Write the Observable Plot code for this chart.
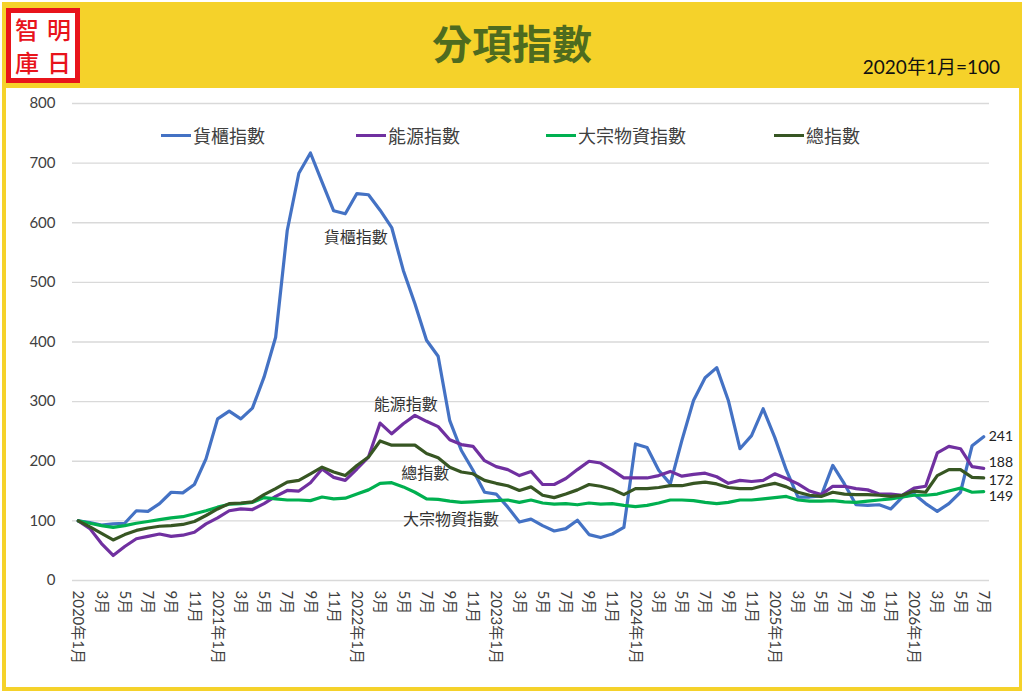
<!DOCTYPE html>
<html>
<head>
<meta charset="utf-8">
<script src="https://cdn.jsdelivr.net/npm/d3@7"></script>
<script src="https://cdn.jsdelivr.net/npm/@observablehq/plot@0.6"></script>
<style>
  body { margin: 0; background: #fff; font-family: Lato, "Noto Sans CJK TC", sans-serif; }
  #frame { position: absolute; top: 2px; left: 2px; width: 1020px; height: 689px; background: #f5d22a; }
  #logo { position: absolute; left: 4px; top: 6px; width: 64px; height: 65px; border: 5px solid #e8141b; background: #fff;
          display: grid; grid-template-columns: 1fr 1fr; grid-template-rows: 1fr 1fr; color: #e8141b;
          font: 500 24px "Noto Sans CJK TC"; line-height: 32px; text-align: center; overflow: hidden; }
  #title { position: absolute; left: 0; width: 1020px; top: 14px; text-align: center; color: #4e6b1f;
           font: 700 40px "Noto Sans CJK TC"; line-height: 52px; }
  #sub { position: absolute; right: 22px; top: 50px; font: 400 19px Lato, "Noto Sans CJK TC"; color: #111; }
  #panel { position: absolute; left: 4px; top: 86px; width: 1013px; height: 599px; background: #fff; }
  #legend { position: absolute; top: 34px; left: 0; width: 1013px; height: 24px; font: 18px "Noto Sans CJK TC"; color: #404040; }
  .item { position: absolute; display: flex; align-items: center; white-space: nowrap; }
  .sw { width: 30px; height: 3px; margin-right: 2px; }
</style>
</head>
<body>
<div id="frame">
  <div id="logo"><div>智</div><div>明</div><div>庫</div><div>日</div></div>
  <div id="title">分項指數</div>
  <div id="sub">2020年1月=100</div>
  <div id="panel">
    <div id="chart"></div>
    <div id="legend"></div>
  </div>
</div>
<script>
// 2020年1月 ... 2026年7月, 每月一點
const startYear = 2020;
const nMonths = 79;

const seriesNames = ["貨櫃指數", "能源指數", "大宗物資指數", "總指數"];
const seriesColors = ["#4472c4", "#7030a0", "#00b050", "#375623"];

const container = [100, 97, 93, 95, 96, 117, 116, 129, 148, 147, 161, 204, 271, 284, 271, 289, 341, 408, 587, 683, 717,
  668, 620, 615, 649, 647, 621, 592, 520, 464, 403, 376, 268, 218, 185, 148, 145, 123, 98, 103,
  92, 83, 87, 101, 77, 72, 78, 89, 229, 223, 185, 162, 235, 302, 340, 357, 302, 221, 243,
  288, 240, 185, 140, 140, 142, 193, 162, 127, 126, 127, 120, 140, 145, 129, 116, 129, 148, 226, 241];
const energy = [100, 87, 62, 42, 57, 70, 74, 78, 74, 76, 81, 95, 105, 117, 120, 119, 129, 141, 151, 150, 164,
  187, 173, 168, 187, 207, 264, 246, 263, 277, 267, 258, 236, 228, 225, 201, 191, 186, 176, 183,
  161, 161, 171, 186, 200, 197, 185, 172, 172, 172, 176, 183, 175, 178, 180, 174, 163, 168, 166,
  168, 179, 171, 162, 150, 144, 158, 158, 154, 152, 145, 145, 143, 155, 158, 214, 225, 221, 191, 188];
const bulk = [100, 96, 92, 89, 92, 96, 99, 102, 105, 107, 112, 117, 123, 128, 129, 131, 139, 137, 135, 135, 134,
  140, 137, 138, 145, 152, 163, 164, 157, 148, 137, 136, 133, 131, 132, 133, 134, 135, 131, 135,
  130, 128, 129, 127, 130, 128, 129, 126, 124, 126, 130, 135, 135, 134, 131, 129, 131, 135, 135,
  137, 139, 141, 135, 133, 133, 134, 132, 131, 133, 135, 137, 140, 143, 143, 145, 150, 155, 148, 149];
const total = [100, 90, 79, 68, 77, 84, 88, 91, 92, 94, 99, 109, 120, 129, 130, 132, 144, 154, 165, 168, 179,
  190, 182, 176, 193, 207, 234, 227, 227, 227, 213, 206, 190, 182, 179, 168, 163, 159, 151, 157,
  143, 139, 145, 152, 161, 158, 153, 144, 154, 154, 156, 159, 159, 163, 165, 162, 156, 154, 154,
  159, 163, 157, 148, 143, 141, 148, 145, 144, 144, 143, 141, 143, 150, 148, 176, 186, 186, 173, 172];

const yTicks = [0, 100, 200, 300, 400, 500, 600, 700, 800];
const xTicks = d3.range(0, nMonths, 2);

// 圖內標註 (月序, 指數值)
const notes = [
  {text: "貨櫃指數", i: 23.9, v: 575},
  {text: "能源指數", i: 28.2, v: 295},
  {text: "總指數", i: 29.9, v: 178},
  {text: "大宗物資指數", i: 32.1, v: 102}
];

const allSeries = [container, energy, bulk, total];
const rows = allSeries.flatMap((vals, k) => vals.map((v, i) => ({i, v, name: seriesNames[k]})));

// 末端數值標籤: 上下錯開避免重疊
const endShift = [0, -6, 5, 3];

const monthLabel = i => i % 12 === 0 ? `${startYear + i / 12}年1月` : `${i % 12 + 1}月`;

const chart = Plot.plot({
  width: 1013,
  height: 599,
  marginTop: 15,
  marginBottom: 107,
  marginLeft: 66,
  marginRight: 30,
  style: {background: "transparent", fontFamily: "Lato, 'Noto Sans CJK TC', sans-serif", overflow: "visible"},
  x: {type: "linear", domain: [-0.5, nMonths - 0.5]},
  y: {domain: [0, 800]},
  color: {domain: seriesNames, range: seriesColors},
  marks: [
    Plot.ruleY(yTicks, {stroke: "#d9d9d9", strokeWidth: 1.4}),
    Plot.axisY({ticks: yTicks, tickSize: 0, tickPadding: 17, fontSize: 15, fill: "#404040", label: null}),
    Plot.axisX({ticks: xTicks, tickSize: 0, tickPadding: 10, tickRotate: 90, fontSize: 15, fill: "#404040",
      tickFormat: monthLabel, label: null}),
    Plot.line(rows, {x: "i", y: "v", z: "name", stroke: "name", strokeWidth: 3.2, strokeLinejoin: "round"}),
    Plot.text(notes, {x: "i", y: "v", text: "text", fontSize: 16, fill: "#333",
      fontFamily: "'Noto Sans CJK TC'"}),
    ...allSeries.map((vals, k) => Plot.text([vals[nMonths - 1]], {
      x: nMonths - 1, y: d => d, text: d => String(d), dx: 5, dy: endShift[k],
      textAnchor: "start", fontSize: 14, fill: "#222"
    }))
  ]
});
document.getElementById("chart").append(chart);

// 圖例
const legendX = [155, 350, 540, 768];
const legend = document.getElementById("legend");
seriesNames.forEach((name, k) => {
  const item = document.createElement("div");
  item.className = "item";
  item.style.left = legendX[k] + "px";
  item.innerHTML = `<span class="sw" style="background:${seriesColors[k]}"></span><span>${name}</span>`;
  legend.append(item);
});
</script>
</body>
</html>
